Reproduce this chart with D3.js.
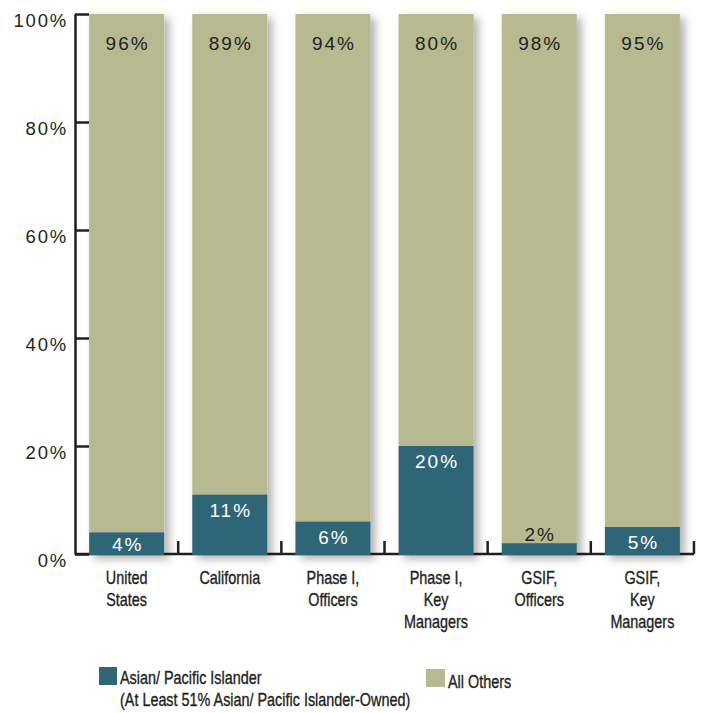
<!DOCTYPE html>
<html>
<head>
<meta charset="utf-8">
<script src="https://cdn.jsdelivr.net/npm/d3@7"></script>
<style>
  html, body { margin: 0; padding: 0; background: #ffffff; }
  svg { display: block; }
</style>
</head>
<body>
<svg id="chart" width="702" height="713"></svg>
<script>
const categories = [
  ["United", "States"],
  ["California"],
  ["Phase I,", "Officers"],
  ["Phase I,", "Key", "Managers"],
  ["GSIF,", "Officers"],
  ["GSIF,", "Key", "Managers"]
];
const asianValues = [4, 11, 6, 20, 2, 5];
const otherValues = [96, 89, 94, 80, 98, 95];
const yTickValues = [0, 20, 40, 60, 80, 100];
const seriesNames = ["Asian/ Pacific Islander", "(At Least 51% Asian/ Pacific Islander-Owned)", "All Others"];

const colAsian = "#2e6677";
const colOther = "#b7b990";
const ink = "#231f20";
const numFont = "Liberation Sans, Arial, Helvetica, sans-serif";
const narrowScale = 0.8;

const svg = d3.select("#chart");

const defs = svg.append("defs");
const f = defs.append("filter").attr("id", "shadow")
  .attr("x", "-20%").attr("y", "-10%").attr("width", "150%").attr("height", "130%");
f.append("feDropShadow").attr("dx", 5).attr("dy", 4).attr("stdDeviation", 4)
  .attr("flood-color", "#000").attr("flood-opacity", 0.3);

const idx = d3.range(categories.length);
const x = d3.scaleBand().domain(idx).range([75, 694]).paddingInner(0.273).paddingOuter(0.137);
const y = d3.scaleLinear().domain([0, 100]).range([554, 14]);

// Y axis
const yAxis = d3.axisLeft(y).tickValues(yTickValues).tickFormat(d => d + "%")
  .tickSizeInner(-14).tickSizeOuter(0).tickPadding(7);
const gy = svg.append("g").attr("transform", "translate(75,0)").call(yAxis);
gy.select(".domain").attr("stroke", ink).attr("stroke-width", 2.5);
gy.selectAll(".tick line").attr("stroke", ink).attr("stroke-width", 2.5);
gy.selectAll(".tick text")
  .attr("font-family", numFont).attr("font-size", 18.5).attr("fill", ink)
  .attr("letter-spacing", "1.8px")
  .attr("dy", "0.65em");

// X axis line and boundary ticks
const gx = svg.append("g");
gx.append("line").attr("x1", 75).attr("x2", 694).attr("y1", y(0)).attr("y2", y(0))
  .attr("stroke", ink).attr("stroke-width", 2.5);
gx.selectAll("line.tk").data(idx).join("line").attr("class", "tk")
  .attr("x1", d => x(d) + x.bandwidth() + (x.step() - x.bandwidth()) / 2)
  .attr("x2", d => x(d) + x.bandwidth() + (x.step() - x.bandwidth()) / 2)
  .attr("y1", y(0)).attr("y2", y(0) - 13)
  .attr("stroke", ink).attr("stroke-width", 2.5);

// Bars
const bars = svg.append("g");
const barG = bars.selectAll("g.bar").data(idx).join("g").attr("class", "bar")
  .attr("filter", "url(#shadow)");
barG.append("rect")
  .attr("x", d => x(d)).attr("width", x.bandwidth())
  .attr("y", d => y(asianValues[d] + otherValues[d]))
  .attr("height", d => y(asianValues[d]) - y(asianValues[d] + otherValues[d]))
  .attr("fill", colOther);
barG.append("rect")
  .attr("x", d => x(d)).attr("width", x.bandwidth())
  .attr("y", d => y(asianValues[d]))
  .attr("height", d => y(0) - y(asianValues[d]) + 1)
  .attr("fill", colAsian);

// Value labels
const labels = svg.append("g").attr("font-family", numFont).attr("font-size", 19)
  .attr("text-anchor", "middle").attr("letter-spacing", "2px");
labels.selectAll("text.top").data(idx).join("text").attr("class", "top")
  .attr("x", d => x(d) + x.bandwidth() / 2 + 1)
  .attr("y", d => y(asianValues[d] + otherValues[d]) + 36)
  .attr("fill", ink)
  .text(d => otherValues[d] + "%");
labels.selectAll("text.bot").data(idx).join("text").attr("class", "bot")
  .attr("x", d => x(d) + x.bandwidth() / 2 + 1)
  .attr("y", d => asianValues[d] >= 3 ? Math.min(y(asianValues[d]) + 22, y(0) - 3) : y(asianValues[d]) - 2)
  .attr("fill", d => asianValues[d] >= 3 ? "#ffffff" : ink)
  .text(d => asianValues[d] + "%");

// Category labels (condensed via horizontal scale)
const cat = svg.append("g").attr("font-family", numFont).attr("font-size", 18)
  .attr("text-anchor", "middle").attr("fill", ink)
  .attr("stroke", ink).attr("stroke-width", 0.35);
idx.forEach(i => {
  const cx = x(i) + x.bandwidth() / 2;
  const t = cat.append("text").attr("transform", `translate(${cx},584) scale(${narrowScale},1)`);
  categories[i].forEach((line, j) => {
    t.append("tspan").attr("x", 0).attr("y", j * 22).text(line);
  });
});

// Legend
const lg = svg.append("g").attr("font-family", numFont).attr("font-size", 18).attr("fill", ink)
  .attr("stroke", ink).attr("stroke-width", 0.35);
lg.append("rect").attr("x", 99).attr("y", 667).attr("width", 18).attr("height", 18).attr("fill", colAsian).attr("stroke", "none");
lg.append("text").attr("transform", `translate(120,684) scale(${narrowScale},1)`).text(seriesNames[0]);
lg.append("text").attr("transform", `translate(120,706) scale(${narrowScale},1)`).text(seriesNames[1]);
lg.append("rect").attr("x", 426).attr("y", 669).attr("width", 19).attr("height", 18).attr("fill", colOther).attr("stroke", "none");
lg.append("text").attr("transform", `translate(448,688) scale(${narrowScale},1)`).text(seriesNames[2]);
</script>
</body>
</html>
